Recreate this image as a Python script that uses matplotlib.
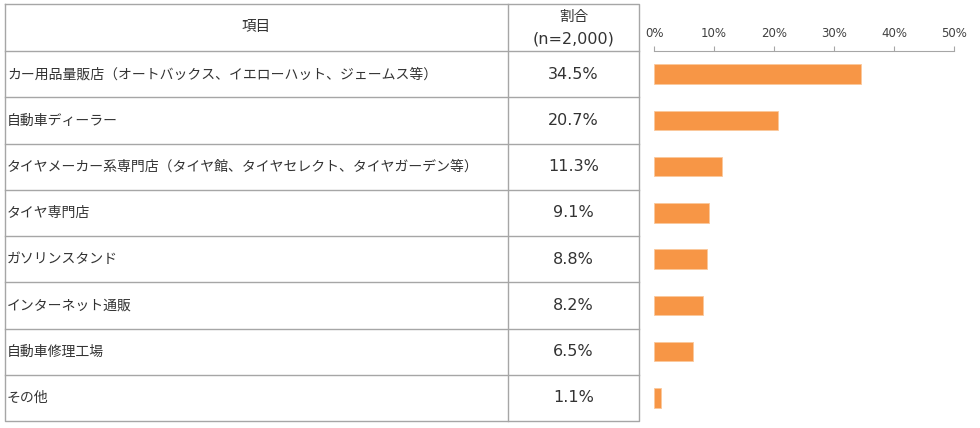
import matplotlib
matplotlib.use("Agg")
import matplotlib.pyplot as plt

plt.rcParams['font.family'] = ['Noto Sans CJK JP', 'DejaVu Sans']

items = [
    "カー用品量販店（オートバックス、イエローハット、ジェームス等）",
    "自動車ディーラー",
    "タイヤメーカー系専門店（タイヤ館、タイヤセレクト、タイヤガーデン等）",
    "タイヤ専門店",
    "ガソリンスタンド",
    "インターネット通販",
    "自動車修理工場",
    "その他",
]
shares = [34.5, 20.7, 11.3, 9.1, 8.8, 8.2, 6.5, 1.1]
header_item = "項目"
header_share = "割合"
header_n = "(n=2,000)"
ticks = [0, 10, 20, 30, 40, 50]

W, H = 980, 428
fig = plt.figure(figsize=(W / 100, H / 100), dpi=100)

# table drawn in pixel coordinates
tab = fig.add_axes([0, 0, 1, 1])
tab.set_xlim(0, W)
tab.set_ylim(H, 0)
tab.axis('off')

x0, x1, x2 = 5, 508, 639
top, head_bot, bot = 4, 51, 421
row_h = (bot - head_bot) / len(items)
line_kw = dict(color='#a6a6a6', lw=1.0)
txt = '#333333'
jp = ['Noto Sans CJK JP']
num = ['DejaVu Sans']

tab.plot([x0, x2, x2, x0, x0], [top, top, bot, bot, top], **line_kw)
tab.plot([x1, x1], [top, bot], **line_kw)
for i in range(len(items)):
    y = head_bot + i * row_h
    tab.plot([x0, x2], [y, y], **line_kw)

xc2 = (x1 + x2) / 2
tab.text((x0 + x1) / 2, 27, header_item, ha='center', va='center',
         fontsize=10.5, color=txt, family=jp)
tab.text(xc2, 17, header_share, ha='center', va='center',
         fontsize=10.5, color=txt, family=jp)
tab.text(xc2, 39, header_n, ha='center', va='center',
         fontsize=11.5, color=txt, family=num)
for i, (name, v) in enumerate(zip(items, shares)):
    yc = head_bot + (i + 0.5) * row_h
    tab.text(x0 + 2, yc, name, ha='left', va='center', fontsize=10, color=txt, family=jp)
    tab.text(xc2, yc, f"{v}%", ha='center', va='center', fontsize=11.5, color=txt, family=num)

# bar chart aligned with the table rows
ax = fig.add_axes([654 / W, 1 - bot / H, 300 / W, (bot - head_bot) / H])
ax.barh([i + 0.5 for i in range(len(items))], shares, height=0.42,
        color='#f79646', edgecolor='#fbc89c', lw=0.6)
ax.set_xlim(0, 50)
ax.set_ylim(len(items), 0)
ax.xaxis.tick_top()
ax.set_xticks(ticks)
ax.set_xticklabels([f"{t}%" for t in ticks], fontsize=8.5, color='#404040', family=num)
ax.tick_params(axis='x', direction='out', length=3.75, color='#a6a6a6', pad=4.5)
ax.set_yticks([])
for s in ['bottom', 'left', 'right']:
    ax.spines[s].set_visible(False)
ax.spines['top'].set_color('#a6a6a6')
ax.patch.set_alpha(0)

fig.savefig('out.png', dpi=100)
